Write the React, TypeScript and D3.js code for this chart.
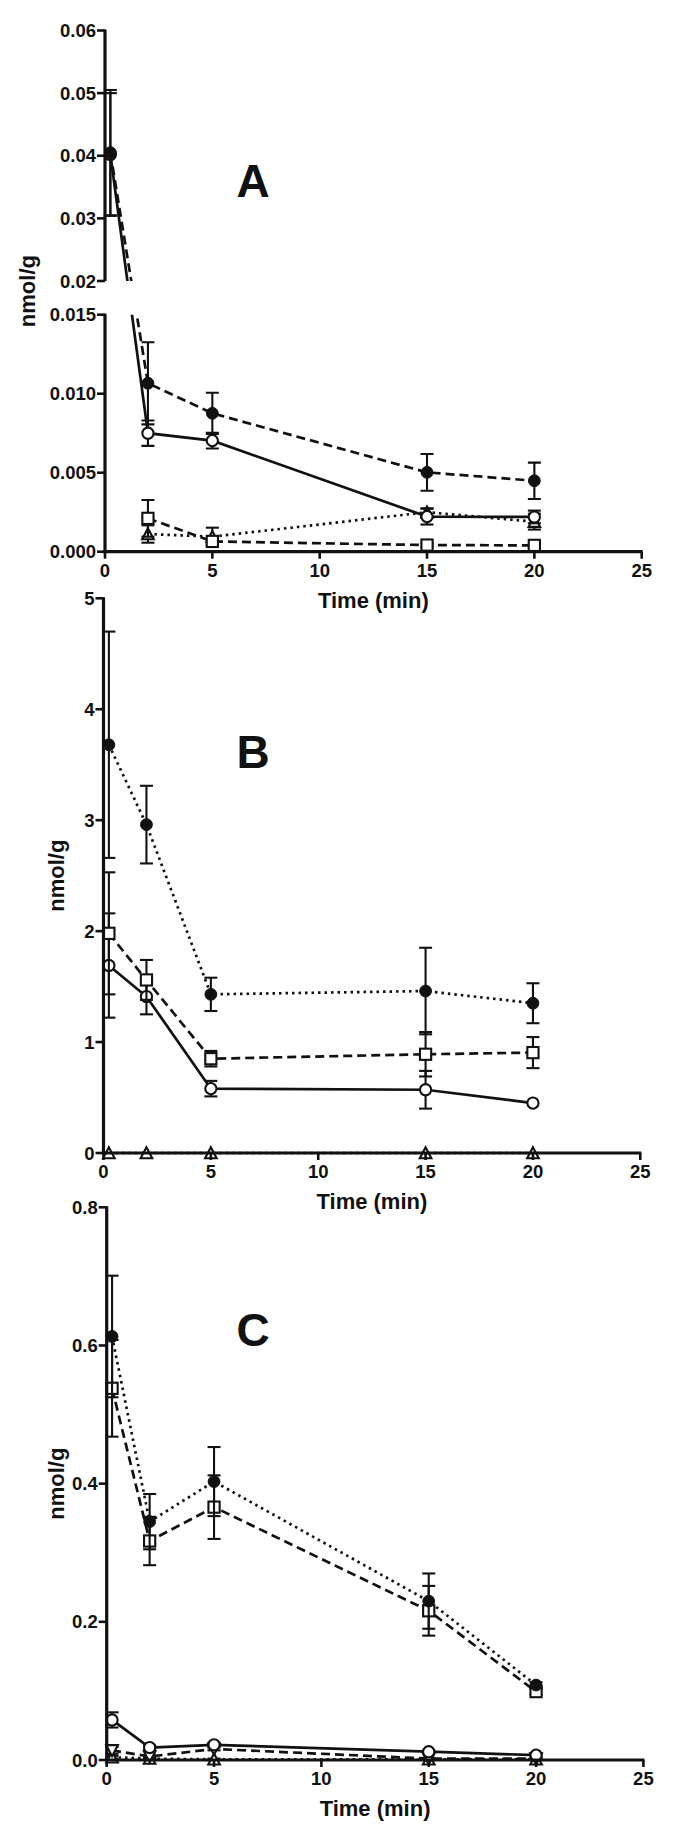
import React from "react";
import * as d3 from "d3";

// ---------- data ----------
const times = [0.25, 2, 5, 15, 20];
const xTicks = [0, 5, 10, 15, 20, 25];
const xTickLabels = ["0", "5", "10", "15", "20", "25"];

// Panel A
const aFilled = [0.0405, 0.01066, 0.00876, 0.00502, 0.00449];
const aFilledErr = [0.0100, 0.0026, 0.0013, 0.00116, 0.00115];
const aOpen = [0.0402, 0.0075, 0.00703, 0.00222, 0.0022];
const aOpenErr = [0.0098, 0.0008, 0.0005, 0.0005, 0.0004];
const aSquare = [null, 0.00211, 0.00065, 0.00042, 0.0004];
const aSquareErr = [null, 0.00116, 0.0002, 0.0001, 0.0001];
const aTri = [null, 0.00112, 0.00095, 0.0025, 0.0019];
const aTriErr = [null, 0.00055, 0.00057, 0.00025, 0.0005];
const aYTicks = [0, 0.005, 0.01, 0.015, 0.02, 0.03, 0.04, 0.05, 0.06];
const aYTickLabels = ["0.000", "0.005", "0.010", "0.015", "0.02", "0.03", "0.04", "0.05", "0.06"];

// Panel B
const bFilled = [3.68, 2.96, 1.43, 1.46, 1.35];
const bFilledErr = [1.02, 0.35, 0.15, 0.39, 0.18];
const bSquare = [1.98, 1.56, 0.85, 0.89, 0.905];
const bSquareErr = [0.55, 0.18, 0.07, 0.2, 0.14];
const bOpen = [1.69, 1.41, 0.58, 0.57, 0.45];
const bOpenErr = [0.47, 0.16, 0.07, 0.17, 0.0];
const bTri = [0, 0, 0, 0, 0];
const bTriErr = [0, 0, 0, 0, 0];
const bYTicks = [0, 1, 2, 3, 4, 5];
const bYTickLabels = ["0", "1", "2", "3", "4", "5"];

// Panel C
const cFilled = [0.613, 0.345, 0.403, 0.23, 0.1085];
const cFilledErr = [0.088, 0.04, 0.05, 0.04, 0.004];
const cSquare = [0.538, 0.317, 0.366, 0.216, 0.099];
const cSquareErr = [0.07, 0.035, 0.046, 0.036, 0.004];
const cOpen = [0.058, 0.018, 0.022, 0.012, 0.007];
const cOpenErr = [0.011, 0.003, 0.003, 0.002, 0.002];
const cTriDown = [0.014, 0.005, 0.016, 0.002, 0.002];
const cTriDownErr = [0.005, 0.002, 0.002, 0.001, 0.001];
const cTriUp = [0.004, 0.002, 0.001, 0.001, 0.001];
const cTriUpErr = [0.002, 0.001, 0.001, 0.0, 0.0];
const cYTicks = [0, 0.2, 0.4, 0.6, 0.8];
const cYTickLabels = ["0.0", "0.2", "0.4", "0.6", "0.8"];

// ---------- styles ----------
const FONT = "'Liberation Sans', Arial, Helvetica, sans-serif";
const DASHED = "9 5";
const DOTTED = "2.5 4";
const SOLID = "none";

type Series = {
  mean: (number | null)[];
  err: (number | null)[];
  marker: "filled" | "circle" | "square" | "triUp" | "triDown";
  dash: string;
};

type PanelSpec = {
  id: string;
  letter: string;
  letterY: number;
  xRange: [number, number];
  yDomain: number[];
  yRange: number[];
  segments: [number, number][];
  yTicks: number[];
  yTickLabels: string[];
  titleX: number;
  gap?: [number, number];
  series: Series[];
};

const panels: PanelSpec[] = [
  {
    id: "A",
    letter: "A",
    letterY: 197,
    xRange: [105, 641.7],
    yDomain: [0, 0.015, 0.02, 0.06],
    yRange: [551.7, 314.7, 281, 30.5],
    segments: [[0, 0.015], [0.02, 0.06]],
    yTicks: aYTicks,
    yTickLabels: aYTickLabels,
    titleX: 27,
    gap: [281, 314.7],
    series: [
      { mean: aTri, err: aTriErr, marker: "triUp", dash: DOTTED },
      { mean: aSquare, err: aSquareErr, marker: "square", dash: DASHED },
      { mean: aOpen, err: aOpenErr, marker: "circle", dash: SOLID },
      { mean: aFilled, err: aFilledErr, marker: "filled", dash: DASHED },
    ],
  },
  {
    id: "B",
    letter: "B",
    letterY: 768,
    xRange: [103.5, 640.3],
    yDomain: [0, 5],
    yRange: [1153, 598.3],
    segments: [[0, 5]],
    yTicks: bYTicks,
    yTickLabels: bYTickLabels,
    titleX: 56,
    series: [
      { mean: bTri, err: bTriErr, marker: "triUp", dash: DOTTED },
      { mean: bOpen, err: bOpenErr, marker: "circle", dash: SOLID },
      { mean: bSquare, err: bSquareErr, marker: "square", dash: DASHED },
      { mean: bFilled, err: bFilledErr, marker: "filled", dash: DOTTED },
    ],
  },
  {
    id: "C",
    letter: "C",
    letterY: 1346,
    xRange: [106.7, 643.4],
    yDomain: [0, 0.8],
    yRange: [1760, 1207.3],
    segments: [[0, 0.8]],
    yTicks: cYTicks,
    yTickLabels: cYTickLabels,
    titleX: 56,
    series: [
      { mean: cTriUp, err: cTriUpErr, marker: "triUp", dash: DOTTED },
      { mean: cTriDown, err: cTriDownErr, marker: "triDown", dash: DASHED },
      { mean: cOpen, err: cOpenErr, marker: "circle", dash: SOLID },
      { mean: cSquare, err: cSquareErr, marker: "square", dash: DASHED },
      { mean: cFilled, err: cFilledErr, marker: "filled", dash: DOTTED },
    ],
  },
];

function Marker({ kind, cx, cy }: { kind: string; cx: number; cy: number }) {
  const sw = 2.1;
  if (kind === "filled") return <circle cx={cx} cy={cy} r={5.9} fill="#111" stroke="#111" strokeWidth={1} />;
  if (kind === "circle") return <circle cx={cx} cy={cy} r={5.6} fill="#fff" stroke="#111" strokeWidth={sw} />;
  if (kind === "square")
    return <rect x={cx - 5.6} y={cy - 5.6} width={11.2} height={11.2} fill="#fff" stroke="#111" strokeWidth={sw} />;
  if (kind === "triUp")
    return (
      <path
        d={`M${cx},${cy - 5.8}L${cx + 5.8},${cy + 5.2}L${cx - 5.8},${cy + 5.2}Z`}
        fill="#fff"
        stroke="#111"
        strokeWidth={sw}
      />
    );
  return (
    <path
      d={`M${cx},${cy + 5.8}L${cx + 5.8},${cy - 5.2}L${cx - 5.8},${cy - 5.2}Z`}
      fill="#fff"
      stroke="#111"
      strokeWidth={sw}
    />
  );
}

function Panel({ p }: { p: PanelSpec }) {
  const xs = d3.scaleLinear().domain([0, 25]).range(p.xRange);
  const ys = d3.scaleLinear().domain(p.yDomain).range(p.yRange);
  const ax = xs(0);
  const ay = ys(0);
  const x1 = xs(25);
  const clipId = `clip${p.id}`;
  const gen = d3
    .line<[number, number | null]>()
    .defined((d) => d[1] != null)
    .x((d) => xs(d[0]))
    .y((d) => ys(d[1] as number));

  return (
    <g>
      {p.gap && (
        <clipPath id={clipId}>
          <rect x={0} y={0} width={700} height={p.gap[0]} />
          <rect x={0} y={p.gap[1]} width={700} height={700} />
        </clipPath>
      )}
      {/* data */}
      <g clipPath={p.gap ? `url(#${clipId})` : undefined}>
        {p.series.map((s, i) => {
          const pts = times.map((t, j) => [t, s.mean[j]] as [number, number | null]);
          return (
            <g key={i}>
              <path
                d={gen(pts) || ""}
                fill="none"
                stroke="#111"
                strokeWidth={2.7}
                strokeDasharray={s.dash === SOLID ? undefined : s.dash}
              />
              {times.map((t, j) => {
                const m = s.mean[j];
                const e = s.err[j];
                if (m == null || e == null || e === 0) return null;
                const cx = xs(t);
                const yt = ys(m + e);
                const yb = ys(Math.max(m - e, 0));
                return (
                  <g key={j} stroke="#111" strokeWidth={2.1}>
                    <line x1={cx} x2={cx} y1={yt} y2={yb} />
                    <line x1={cx - 6.5} x2={cx + 6.5} y1={yt} y2={yt} />
                    <line x1={cx - 6.5} x2={cx + 6.5} y1={yb} y2={yb} />
                  </g>
                );
              })}
              {times.map((t, j) => {
                const m = s.mean[j];
                if (m == null) return null;
                return <Marker key={j} kind={s.marker} cx={xs(t)} cy={ys(m)} />;
              })}
            </g>
          );
        })}
      </g>
      {/* axes */}
      <g stroke="#111" strokeWidth={3.2} fill="none">
        {p.segments.map((sg, i) => (
          <line key={i} x1={ax} x2={ax} y1={ys(sg[0]) + (sg[0] === 0 ? 1.6 : 0)} y2={ys(sg[1]) - 1} />
        ))}
        <line x1={ax - 1.6} x2={x1 + 1} y1={ay} y2={ay} />
      </g>
      <g stroke="#111" strokeWidth={2.6}>
        {p.yTicks.map((v, i) => (
          <line key={i} x1={ax - 8} x2={ax} y1={ys(v)} y2={ys(v)} />
        ))}
        {xTicks.map((v, i) => (
          <line key={i} x1={xs(v)} x2={xs(v)} y1={ay} y2={ay + 7} />
        ))}
      </g>
      <g fontFamily={FONT} fontWeight="bold" fontSize={18.5} fill="#111">
        {p.yTicks.map((v, i) => (
          <text key={i} x={ax - 9} y={ys(v)} dy="0.36em" textAnchor="end">
            {p.yTickLabels[i]}
          </text>
        ))}
        {xTicks.map((v, i) => (
          <text key={i} x={xs(v)} y={ay + 25} textAnchor="middle">
            {xTickLabels[i]}
          </text>
        ))}
      </g>
      <text
        x={(ax + x1) / 2}
        y={ay + 56}
        textAnchor="middle"
        fontFamily={FONT}
        fontWeight="bold"
        fontSize={22}
        fill="#111"
      >
        Time (min)
      </text>
      <text
        transform={`translate(${p.titleX},${(ys(p.segments[p.segments.length - 1][1]) + ay) / 2}) rotate(-90)`}
        textAnchor="middle"
        dy="0.35em"
        fontFamily={FONT}
        fontWeight="bold"
        fontSize={22}
        fill="#111"
      >
        nmol/g
      </text>
      <text x={253} y={p.letterY} textAnchor="middle" fontFamily={FONT} fontWeight="bold" fontSize={46} fill="#111">
        {p.letter}
      </text>
    </g>
  );
}

export default function App() {
  return (
    <svg
      width={700}
      height={1838}
      viewBox="0 0 700 1838"
      style={{ position: "absolute", left: 0, top: 0, background: "#fff" }}
    >
      <rect x={0} y={0} width={700} height={1838} fill="#fff" />
      {panels.map((p) => (
        <Panel key={p.id} p={p} />
      ))}
    </svg>
  );
}
